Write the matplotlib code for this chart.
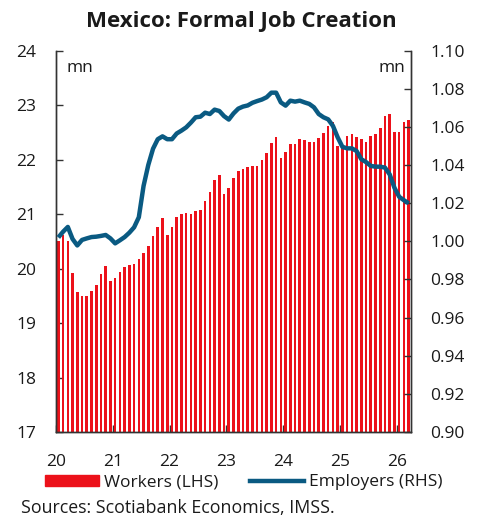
import matplotlib
matplotlib.use("Agg")
import matplotlib.pyplot as plt
import matplotlib.patches as mpatches
import matplotlib.lines as mlines
import numpy as np

plt.rcParams['font.family'] = ['Open Sans', 'DejaVu Sans']

# Monthly data, Jan 2020 .. Mar 2026
workers = [
    20.50, 20.61, 20.50, 19.92, 19.57, 19.50, 19.49, 19.59, 19.70, 19.90, 20.05, 19.77,  # 2020
    19.83, 19.93, 20.02, 20.06, 20.09, 20.17, 20.28, 20.42, 20.60, 20.77, 20.93, 20.61,  # 2021
    20.76, 20.94, 21.00, 21.01, 21.00, 21.06, 21.08, 21.24, 21.41, 21.62, 21.72, 21.37,  # 2022
    21.48, 21.66, 21.79, 21.83, 21.86, 21.88, 21.88, 21.99, 22.12, 22.30, 22.41, 22.02,  # 2023
    22.13, 22.28, 22.28, 22.37, 22.35, 22.32, 22.33, 22.39, 22.48, 22.61, 22.68, 22.24,  # 2024
    22.22, 22.43, 22.47, 22.42, 22.37, 22.32, 22.43, 22.46, 22.57, 22.79, 22.84, 22.51,  # 2025
    22.50, 22.69, 22.72,                                                                  # 2026
]
employers = [
    1.0020, 1.0050, 1.0075, 1.0012, 0.9978, 1.0007, 1.0015, 1.0022, 1.0024, 1.0028, 1.0033, 1.0015,  # 2020
    0.9989, 1.0005, 1.0022, 1.0045, 1.0073, 1.0126, 1.0290, 1.0400, 1.0485, 1.0535, 1.0550, 1.0535,  # 2021
    1.0535, 1.0565, 1.0580, 1.0597, 1.0622, 1.0650, 1.0653, 1.0674, 1.0667, 1.0690, 1.0683, 1.0656,  # 2022
    1.0638, 1.0670, 1.0695, 1.0706, 1.0712, 1.0726, 1.0735, 1.0743, 1.0755, 1.0779, 1.0779, 1.0728,  # 2023
    1.0711, 1.0737, 1.0732, 1.0737, 1.0728, 1.0720, 1.0702, 1.0667, 1.0650, 1.0639, 1.0605, 1.0545,  # 2024
    1.0495, 1.0487, 1.0487, 1.0473, 1.0430, 1.0415, 1.0395, 1.0391, 1.0391, 1.0386, 1.0350, 1.0280,  # 2025
    1.0233, 1.0215, 1.0199,                                                                           # 2026
]
year_ticks = [20, 21, 22, 23, 24, 25, 26]
year_labels = ["20", "21", "22", "23", "24", "25", "26"]
left_ticks = [17, 18, 19, 20, 21, 22, 23, 24]
right_ticks = [0.90, 0.92, 0.94, 0.96, 0.98, 1.00, 1.02, 1.04, 1.06, 1.08, 1.10]

RED = "#ec111a"
BLUE = "#0a5a82"
SPINE = "#333333"
TXT = "#1a1a1a"

n = len(workers)
x = 20 + (np.arange(n) + 0.5) / 12.0

fig = plt.figure(figsize=(4.83, 5.17), dpi=100)
ax = fig.add_axes([0.1159, 0.1644, 0.851 - 0.1159, 0.9023 - 0.1644])
ax2 = ax.twinx()

ax.bar(x, np.array(workers) - 17, bottom=17, width=0.55 / 12, color=RED, linewidth=0, zorder=2)
ax2.plot(x, employers, color=BLUE, lw=3.2, solid_capstyle='butt', solid_joinstyle='round', zorder=3)

ax.set_xlim(20, 20 + n / 12.0)
ax.set_ylim(17, 24)
ax2.set_ylim(0.90, 1.10)

ax.set_xticks(year_ticks)
ax.set_xticklabels(year_labels)
ax.set_yticks(left_ticks)
ax2.set_yticks(right_ticks)
ax2.set_yticklabels([f"{v:.2f}" for v in right_ticks])

for a in (ax, ax2):
    a.spines['top'].set_visible(False)
    for s in ('left', 'right', 'bottom'):
        a.spines[s].set_color(SPINE)
        a.spines[s].set_linewidth(1.0)
ax.tick_params(axis='both', direction='in', length=5, width=1, color=SPINE, labelsize=12.5, labelcolor=TXT)
ax.tick_params(axis='y', pad=14)
ax.tick_params(axis='x', pad=16)
ax2.tick_params(axis='y', direction='in', length=5, width=1, color=SPINE, labelsize=12.5, labelcolor=TXT, pad=14)

ax.patch.set_visible(False)

ax.text(0.03, 0.955, "mn", transform=ax.transAxes, fontsize=12.5, ha='left', va='center', color=TXT)
ax.text(0.985, 0.955, "mn", transform=ax.transAxes, fontsize=12.5, ha='right', va='center', color=TXT)

fig.text(0.5, 0.958, "Mexico: Formal Job Creation", ha='center', va='center', fontsize=16, fontweight='bold', color=TXT)

h1 = mpatches.Patch(color=RED, label="Workers (LHS)")
h2 = mlines.Line2D([], [], color=BLUE, lw=3.2, label="Employers (RHS)")
fig.legend(handles=[h1, h2], loc='center', bbox_to_anchor=(0.505, 0.067), ncol=2, frameon=False,
           fontsize=12.5, handlelength=3.1, handleheight=0.6, handletextpad=0.3, columnspacing=1.8,
           labelcolor=TXT)

fig.text(0.043, 0.0174, "Sources: Scotiabank Economics, IMSS.", ha='left', va='center', fontsize=12.8, color=TXT)

fig.savefig("out.png", dpi=100)
